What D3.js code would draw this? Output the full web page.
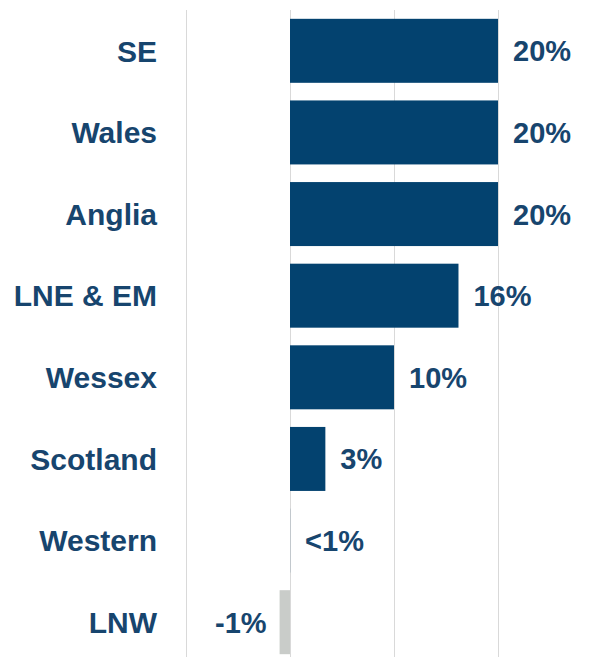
<!DOCTYPE html>
<html>
<head>
<meta charset="utf-8">
<script src="https://cdn.jsdelivr.net/npm/d3@7"></script>
<style>
  html, body { margin: 0; padding: 0; background: #ffffff; }
  svg { display: block; }
</style>
</head>
<body>
<svg id="chart" width="595" height="657"></svg>
<script>
// Regional change, percent
const regions = ["SE", "Wales", "Anglia", "LNE & EM", "Wessex", "Scotland", "Western", "LNW"];
const changes = [20, 20, 20, 16.2, 10, 3.4, 0.01, -1];
const gridTicks = [-10, 0, 10, 20];

const W = 595, H = 657;
const svg = d3.select("#chart");

const x = d3.scaleLinear().domain([-10, 20]).range([186, 498]);
const y = d3.scaleBand().domain(regions).range([10, 663])
  .paddingInner(0.216).paddingOuter(0.108);

// plain hyphen for negatives, "<1%" for small positive shares
const fmt = v => (v > 0 && v < 1) ? "<1%" : Math.round(v).toString() + "%";

// vertical gridlines
const grid = svg.append("g").attr("transform", "translate(0,10)")
  .call(d3.axisBottom(x).tickValues(gridTicks).tickSize(H - 10).tickFormat(""));
grid.select(".domain").remove();
grid.selectAll(".tick line").attr("stroke", "#d9d9d9").attr("stroke-width", 1);

const data = regions.map((r, i) => ({ region: r, value: changes[i] }));

// bars
svg.append("g").selectAll("rect").data(data).join("rect")
  .attr("x", d => x(Math.min(0, d.value)))
  .attr("y", d => y(d.region))
  .attr("width", d => Math.abs(x(d.value) - x(0)))
  .attr("height", y.bandwidth())
  .attr("fill", d => d.value < 0 ? "#c9ccc9" : "#03426f");

// value labels
svg.append("g").selectAll("text").data(data).join("text")
  .attr("x", d => d.value < 0 ? x(d.value) - 13 : x(Math.max(0, d.value)) + 15)
  .attr("y", d => y(d.region) + y.bandwidth() / 2)
  .attr("dy", "0.36em")
  .attr("text-anchor", d => d.value < 0 ? "end" : "start")
  .attr("font-family", "'Liberation Sans', Arial, sans-serif")
  .attr("font-weight", "bold")
  .attr("font-size", 29)
  .attr("fill", "#17456e")
  .text(d => fmt(d.value));

// category labels
svg.append("g").selectAll("text").data(data).join("text")
  .attr("x", 157)
  .attr("y", d => y(d.region) + y.bandwidth() / 2)
  .attr("dy", "0.36em")
  .attr("text-anchor", "end")
  .attr("font-family", "'Liberation Sans', Arial, sans-serif")
  .attr("font-weight", "bold")
  .attr("font-size", 30)
  .attr("fill", "#17456e")
  .text(d => d.region);
</script>
</body>
</html>
